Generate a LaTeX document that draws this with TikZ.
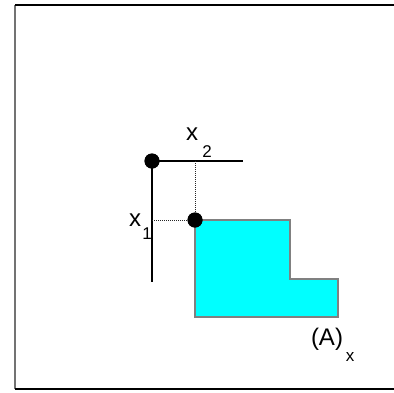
\documentclass[tikz,border=0pt]{standalone}
\usepackage{fontspec}
\setmainfont{Liberation Sans}
\definecolor{aqua}{RGB}{0,255,255}
\begin{document}
\begin{tikzpicture}[x=1pt,y=-1pt,
  dot/.style={circle,fill=black,inner sep=0pt,minimum size=15pt},
  mainlab/.style={inner sep=0pt,font=\fontsize{24}{24}\selectfont},
  sublab/.style={inner sep=0pt,font=\fontsize{17}{17}\selectfont},
  axis/.style={line width=1.2pt,black},
  guide/.style={line width=1pt,dash pattern=on 1pt off 1pt,black!85}]
\useasboundingbox (0,0) rectangle (394,392);
\fill[white] (0,0) rectangle (394,392);
% frame
\coordinate (ftl) at (15,5);
\coordinate (ftr) at (394,5);
\coordinate (fbl) at (15,389);
\coordinate (fbr) at (394,389);
\draw[line width=2pt,black!55] (ftl) -- (fbl);
\draw[line width=1.6pt,black] (ftl) -- (ftr);
\draw[line width=1.6pt,black] (fbl) -- (fbr);
% region A
\fill[aqua,draw=black!50,line width=1.2pt] (195,220) -- (290,220) -- (290,279) -- (338,279) -- (338,317) -- (195,317) -- cycle;
% guides
\coordinate (hEnd) at (243,161);
\coordinate (vEnd) at (152,282);
\coordinate (gTop) at (195,161);
\coordinate (gLeft) at (152,220);
\node[dot] (p1) at (152,161) {};
\node[dot] (p2) at (195,220) {};
\draw[axis] (p1.center) -- (hEnd);
\draw[axis] (p1.center) -- (vEnd);
\draw[guide] (gTop) -- (p2.center);
\draw[guide] (gLeft) -- (p2.center);
\node[dot] at (152,161) {};
\node[dot] at (195,220) {};
% labels
\node[mainlab] (x2) at (192,134) {x};
\node[sublab] (x2s) at (207,152) {2};
\node[mainlab] (x1) at (135,220) {x};
\node[sublab] (x1s) at (147,234) {1};
\node[mainlab] (A) at (327,339) {(A)};
\node[sublab] (As) at (350,357) {x};
\end{tikzpicture}
\end{document}
